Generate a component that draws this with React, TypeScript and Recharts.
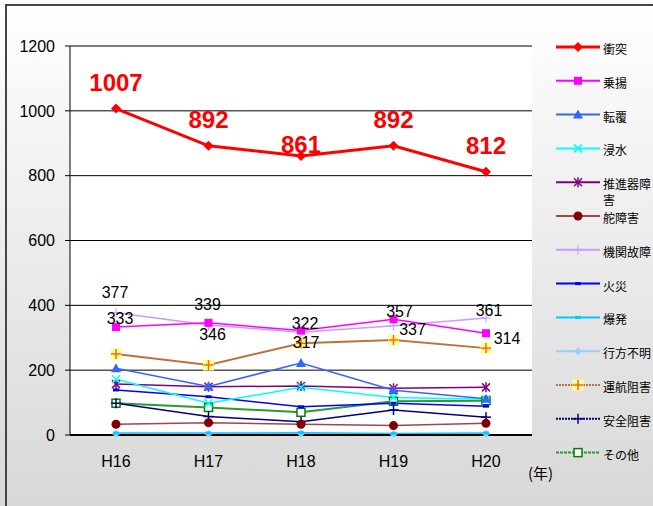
import React from "react";
import {
  LineChart,
  Line,
  XAxis,
  YAxis,
  CartesianGrid,
  LabelList,
} from "recharts";

// 年度
const years = ["H16", "H17", "H18", "H19", "H20"];
const yTicks = [0, 200, 400, 600, 800, 1000, 1200];

// 事故種類別の隻数
const collision = [1007, 892, 861, 892, 812];
const grounding = [333, 346, 322, 357, 314];
const capsize = [206, 150, 222, 138, 112];
const flooding = [172, 98, 147, 116, 110];
const propeller = [157, 149, 151, 144, 147];
const rudder = [33, 38, 33, 29, 36];
const engine = [377, 339, 317, 337, 361];
const fire = [139, 118, 87, 98, 89];
const explosion = [6, 6, 7, 5, 6];
const missing = [4, 4, 5, 3, 4];
const navHazard = [250, 216, 283, 293, 268];
const safetyHazard = [98, 57, 41, 77, 55];
const others = [98, 85, 70, 104, 106];

const series = [
  { key: "c1", name: "衝突", values: collision, color: "#ff0000", width: 3, marker: "diamond" },
  { key: "c2", name: "乗揚", values: grounding, color: "#ff00ff", width: 1.5, marker: "square" },
  { key: "c3", name: "転覆", values: capsize, color: "#3366ff", width: 1.5, marker: "triangle" },
  { key: "c4", name: "浸水", values: flooding, color: "#00ffff", width: 1.5, marker: "cross" },
  { key: "c5", name: "推進器障害", values: propeller, color: "#800080", width: 1.5, marker: "star" },
  { key: "c6", name: "舵障害", values: rudder, color: "#a04848", width: 1.5, marker: "circle" },
  { key: "c7", name: "機関故障", values: engine, color: "#cc99ff", width: 1.5, marker: "plus" },
  { key: "c8", name: "火災", values: fire, color: "#0000ff", width: 1.5, marker: "dash" },
  { key: "c9", name: "爆発", values: explosion, color: "#00ccff", width: 1.5, marker: "dash" },
  { key: "c10", name: "行方不明", values: missing, color: "#99ccff", width: 1.5, marker: "smalldiamond" },
  { key: "c11", name: "運航阻害", values: navHazard, color: "#c0703c", width: 2, marker: "yellowplus", dash: "2 1" },
  { key: "c12", name: "安全阻害", values: safetyHazard, color: "#000080", width: 1.5, marker: "navyplus", dash: "2 1" },
  { key: "c13", name: "その他", values: others, color: "#2e9a2e", width: 2, marker: "opensquare", dash: "3 1" },
];

const data = years.map((year, i) => {
  const row: Record<string, any> = { year };
  series.forEach((s) => (row[s.key] = s.values[i]));
  return row;
});

// ラベル位置の微調整 (点からの dx, dy)
const labelOffsets: Record<string, number[][]> = {
  c1: [[0, -26], [0, -26], [0, -11], [0, -26], [0, -26]],
  c2: [[4, -9], [4, 12], [4, -7], [6, -8], [21, 5]],
  c7: [[-1, -20], [-1, -21], [5, 10], [19, 4], [3, -7]],
};

const Marker = ({ type, cx, cy, color }: any) => {
  if (cx == null || cy == null) return null;
  switch (type) {
    case "diamond":
      return <polygon points={`${cx},${cy - 5} ${cx + 5},${cy} ${cx},${cy + 5} ${cx - 5},${cy}`} fill={color} />;
    case "square":
      return <rect x={cx - 4} y={cy - 4} width={8} height={8} fill={color} />;
    case "triangle":
      return <polygon points={`${cx},${cy - 5} ${cx + 5},${cy + 4} ${cx - 5},${cy + 4}`} fill={color} />;
    case "cross":
      return (
        <g stroke={color} strokeWidth={1.5}>
          <line x1={cx - 4} y1={cy - 4} x2={cx + 4} y2={cy + 4} />
          <line x1={cx - 4} y1={cy + 4} x2={cx + 4} y2={cy - 4} />
        </g>
      );
    case "star":
      return (
        <g stroke={color} strokeWidth={1.5}>
          <line x1={cx - 4} y1={cy - 4} x2={cx + 4} y2={cy + 4} />
          <line x1={cx - 4} y1={cy + 4} x2={cx + 4} y2={cy - 4} />
          <line x1={cx} y1={cy - 5} x2={cx} y2={cy + 5} />
        </g>
      );
    case "circle":
      return <circle cx={cx} cy={cy} r={4.5} fill="#800000" />;
    case "plus":
      return (
        <g stroke={color} strokeWidth={1}>
          <line x1={cx - 5} y1={cy} x2={cx + 5} y2={cy} />
          <line x1={cx} y1={cy - 5} x2={cx} y2={cy + 5} />
        </g>
      );
    case "dash":
      return <rect x={cx - 3} y={cy - 1.5} width={6} height={3} fill={color} />;
    case "smalldiamond":
      return <polygon points={`${cx},${cy - 4} ${cx + 4},${cy} ${cx},${cy + 4} ${cx - 4},${cy}`} fill={color} />;
    case "yellowplus":
      return (
        <g>
          <rect x={cx - 5.5} y={cy - 5.5} width={11} height={11} fill="#ffff99" />
          <g stroke="#ff6600" strokeWidth={1.5}>
            <line x1={cx - 5} y1={cy} x2={cx + 5} y2={cy} />
            <line x1={cx} y1={cy - 5} x2={cx} y2={cy + 5} />
          </g>
        </g>
      );
    case "navyplus":
      return (
        <g stroke={color} strokeWidth={1.5}>
          <line x1={cx - 5} y1={cy} x2={cx + 5} y2={cy} />
          <line x1={cx} y1={cy - 5} x2={cx} y2={cy + 5} />
        </g>
      );
    case "opensquare":
      return <rect x={cx - 4} y={cy - 4} width={8} height={8} fill="#fff" stroke="#008000" strokeWidth={1.5} />;
    default:
      return null;
  }
};

const makeLabel = (key: string, red: boolean) => (props: any) => {
  const { x, y, value, index } = props;
  const [dx, dy] = labelOffsets[key][index];
  return (
    <text
      x={x + dx}
      y={y + dy}
      textAnchor="middle"
      dominantBaseline="central"
      fill={red ? "#ff0000" : "#000"}
      fontSize={red ? 24 : 16}
      fontWeight={red ? "bold" : "normal"}
      fontFamily="'Liberation Sans', Arial, sans-serif"
    >
      {value}
    </text>
  );
};

const legendFont = "'Noto Sans CJK JP', sans-serif";

const Legend = () => (
  <svg width={113} height={506} style={{ position: "absolute", left: 540, top: 0 }}>
    {series.map((s, i) => {
      const y = 47 + i * 33.8;
      const x0 = 16;
      const lines = s.name === "推進器障害" ? ["推進器障", "害"] : [s.name];
      return (
        <g key={s.key}>
          <line x1={x0} y1={y} x2={x0 + 44} y2={y} stroke={s.color} strokeWidth={s.width === 3 ? 3 : 2} strokeDasharray={s.dash} />
          <Marker type={s.marker} cx={x0 + 22} cy={y} color={s.color} />
          {lines.map((t, j) => (
            <text key={t} x={63} y={y + 1.5 + j * 16} fontSize={12} fill="#000" dominantBaseline="central" fontFamily={legendFont}>
              {t}
            </text>
          ))}
        </g>
      );
    })}
  </svg>
);

export default function App() {
  return (
    <div
      style={{
        position: "absolute",
        left: 0,
        top: 0,
        width: 653,
        height: 506,
        overflow: "hidden",
        background: "linear-gradient(#ffffff, #d8d8d8)",
      }}
    >
      <div
        style={{
          position: "absolute",
          left: 5,
          top: 4,
          width: 700,
          height: 600,
          borderTop: "2px solid #454545",
          borderLeft: "2px solid #454545",
        }}
      />
      <LineChart
        width={653}
        height={506}
        data={data}
        margin={{ top: 46, right: 121, left: 0, bottom: 41 }}
        style={{ position: "absolute", left: 0, top: 0 }}
      >
        <CartesianGrid vertical={false} stroke="#000" fill="#fff" fillOpacity={1} />
        <XAxis
          dataKey="year"
          height={30}
          padding={{ left: 46, right: 46 }}
          tickLine={false}
          axisLine={{ stroke: "#000", strokeWidth: 2 }}
          tickMargin={15}
          tick={{ fill: "#000", fontSize: 16, fontFamily: "'Liberation Sans', Arial, sans-serif" }}
        />
        <YAxis
          width={70}
          domain={[0, 1200]}
          ticks={yTicks}
          interval={0}
          tickSize={5}
          tickMargin={10}
          tickLine={{ stroke: "#000" }}
          axisLine={{ stroke: "#000" }}
          tick={{ fill: "#000", fontSize: 16, fontFamily: "'Liberation Sans', Arial, sans-serif" }}
        />
        <YAxis yAxisId="r" orientation="right" width={0} domain={[0, 1200]} tick={false} tickLine={false} axisLine={{ stroke: "#000" }} />
        {series
          .slice()
          .reverse()
          .map((s) => (
            <Line
              key={s.key}
              dataKey={s.key}
              name={s.name}
              type="linear"
              stroke={s.color}
              strokeWidth={s.width}
              isAnimationActive={false}
              activeDot={false}
              dot={(p: any) => <Marker key={`${s.key}-${p.index}`} type={s.marker} cx={p.cx} cy={p.cy} color={s.color} />}
            >
              {labelOffsets[s.key] && (
                <LabelList dataKey={s.key} content={makeLabel(s.key, s.key === "c1")} />
              )}
            </Line>
          ))}
      </LineChart>
      <Legend />
      <div
        style={{
          position: "absolute",
          left: 528,
          top: 462,
          fontSize: 15,
          fontFamily: legendFont,
          color: "#000",
          lineHeight: "22px",
        }}
      >
        (年)
      </div>
    </div>
  );
}
